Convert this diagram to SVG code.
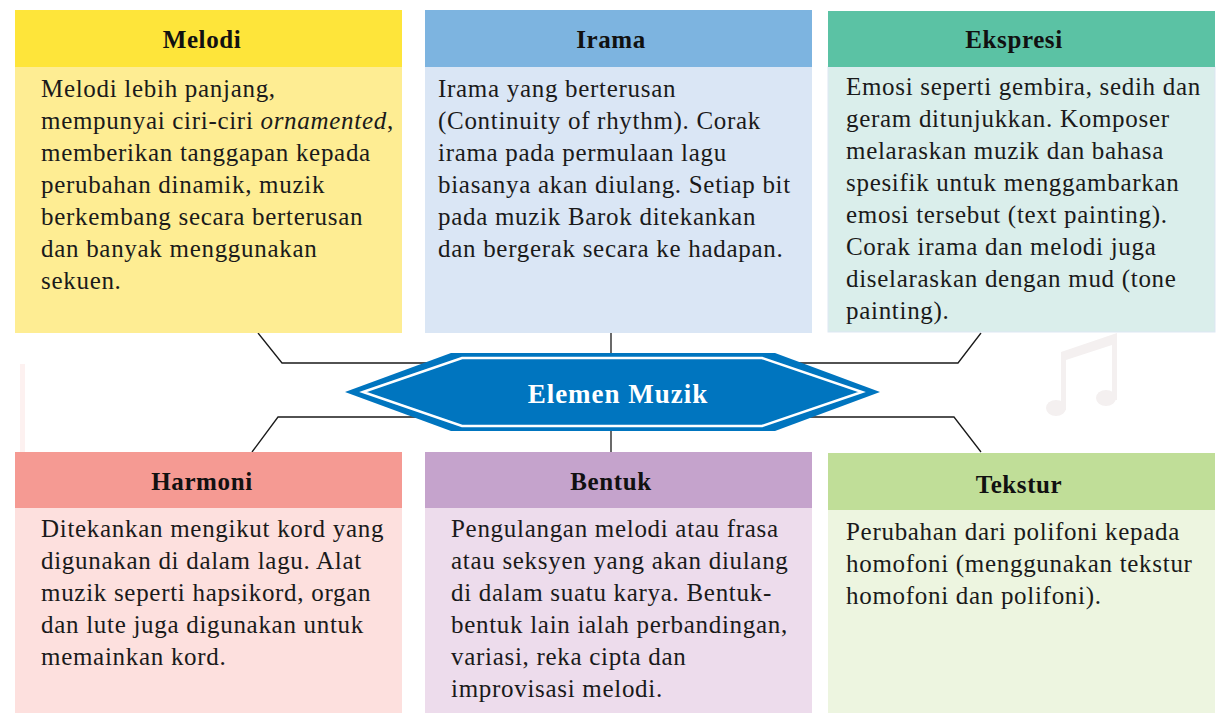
<svg xmlns="http://www.w3.org/2000/svg" width="1231" height="713" viewBox="0 0 1231 713">
<style>
.hd{font-family:"Liberation Serif","Times New Roman",serif;font-weight:bold;font-size:25px;letter-spacing:0.6px;fill:#111;text-anchor:middle}
.bd{font-family:"Liberation Serif","Times New Roman",serif;font-size:25px;letter-spacing:0.7px;fill:#1a1a1a}
.cn{fill:none;stroke:#1a1a1a;stroke-width:1.3}
</style>
<rect width="1231" height="713" fill="#ffffff"/>
<g id="background" fill="#f4f0f0">
<rect x="20" y="364" width="5" height="90" fill="#fdf1f0"/>
<path d="M1061,352 L1117,333 L1117,400 L1112,400 L1112,345 L1066,360 L1066,410 L1061,410 Z"/>
<ellipse cx="1056" cy="408" rx="10" ry="8"/>
<ellipse cx="1106" cy="398" rx="10" ry="8"/>
</g>
<g id="connectors">
<path class="cn" d="M258,333 L282,363 L440,363"/>
<path class="cn" d="M611,333 L611,355"/>
<path class="cn" d="M981,333 L958,363 L790,363"/>
<path class="cn" d="M440,417 L278,417 L252,452"/>
<path class="cn" d="M611,428 L611,452"/>
<path class="cn" d="M790,417 L954,417 L981,452"/>
</g>
<g id="node-melodi">
<rect x="15" y="67" width="387" height="266" fill="#feed93"/>
<rect x="15" y="10" width="387" height="57" fill="#fee53a"/>
<text class="hd" x="202" y="48">Melodi</text>
<text class="bd" x="41" y="97">Melodi lebih panjang,</text>
<text class="bd" x="41" y="129">mempunyai ciri-ciri <tspan font-style="italic">ornamented</tspan>,</text>
<text class="bd" x="41" y="161">memberikan tanggapan kepada</text>
<text class="bd" x="41" y="193">perubahan dinamik, muzik</text>
<text class="bd" x="41" y="225">berkembang secara berterusan</text>
<text class="bd" x="41" y="257">dan banyak menggunakan</text>
<text class="bd" x="41" y="289">sekuen.</text>
</g>
<g id="node-irama">
<rect x="425" y="67" width="387" height="266" fill="#dae6f5"/>
<rect x="425" y="10" width="387" height="57" fill="#7db4e0"/>
<text class="hd" x="611" y="48">Irama</text>
<text class="bd" x="438" y="97">Irama yang berterusan</text>
<text class="bd" x="438" y="129">(Continuity of rhythm). Corak</text>
<text class="bd" x="438" y="161">irama pada permulaan lagu</text>
<text class="bd" x="438" y="193">biasanya akan diulang. Setiap bit</text>
<text class="bd" x="438" y="225">pada muzik Barok ditekankan</text>
<text class="bd" x="438" y="257">dan bergerak secara ke hadapan.</text>
</g>
<g id="node-ekspresi">
<rect x="828" y="67" width="387" height="265" fill="#daeeeb" stroke="#dde7f3" stroke-width="1"/>
<rect x="828" y="11" width="387" height="56" fill="#5bc2a4"/>
<text class="hd" x="1014" y="48">Ekspresi</text>
<text class="bd" x="846" y="95">Emosi seperti gembira, sedih dan</text>
<text class="bd" x="846" y="127">geram ditunjukkan. Komposer</text>
<text class="bd" x="846" y="159">melaraskan muzik dan bahasa</text>
<text class="bd" x="846" y="191">spesifik untuk menggambarkan</text>
<text class="bd" x="846" y="223">emosi tersebut (text painting).</text>
<text class="bd" x="846" y="255">Corak irama dan melodi juga</text>
<text class="bd" x="846" y="287">diselaraskan dengan mud (tone</text>
<text class="bd" x="846" y="319">painting).</text>
</g>
<g id="node-harmoni">
<rect x="15" y="508" width="387" height="205" fill="#fde0de"/>
<rect x="15" y="452" width="387" height="56" fill="#f59a93"/>
<text class="hd" x="202" y="490">Harmoni</text>
<text class="bd" x="41" y="537">Ditekankan mengikut kord yang</text>
<text class="bd" x="41" y="569">digunakan di dalam lagu. Alat</text>
<text class="bd" x="41" y="601">muzik seperti hapsikord, organ</text>
<text class="bd" x="41" y="633">dan lute juga digunakan untuk</text>
<text class="bd" x="41" y="665">memainkan kord.</text>
</g>
<g id="node-bentuk">
<rect x="425" y="508" width="387" height="205" fill="#eddcec"/>
<rect x="425" y="452" width="387" height="56" fill="#c5a3cc"/>
<text class="hd" x="611" y="490">Bentuk</text>
<text class="bd" x="451" y="537">Pengulangan melodi atau frasa</text>
<text class="bd" x="451" y="569">atau seksyen yang akan diulang</text>
<text class="bd" x="451" y="601">di dalam suatu karya. Bentuk-</text>
<text class="bd" x="451" y="633">bentuk lain ialah perbandingan,</text>
<text class="bd" x="451" y="665">variasi, reka cipta dan</text>
<text class="bd" x="451" y="697">improvisasi melodi.</text>
</g>
<g id="node-tekstur">
<rect x="828" y="510" width="387" height="203" fill="#edf5e0"/>
<rect x="828" y="453" width="387" height="57" fill="#c0de98"/>
<text class="hd" x="1019" y="493">Tekstur</text>
<text class="bd" x="846" y="540">Perubahan dari polifoni kepada</text>
<text class="bd" x="846" y="572">homofoni (menggunakan tekstur</text>
<text class="bd" x="846" y="604">homofoni dan polifoni).</text>
</g>
<g id="node-elemen-muzik">
<polygon points="345,392 451,353 775,353 880,392 775,431 451,431" fill="#0075bf"/>
<polygon points="363,392 462,358 762,358 862,392 762,426 462,426" fill="none" stroke="#ffffff" stroke-width="2.5"/>
<text x="618" y="403" font-family="'Liberation Serif','Times New Roman',serif" font-weight="bold" font-size="27" letter-spacing="1" fill="#ffffff" text-anchor="middle">Elemen Muzik</text>
</g>
</svg>
